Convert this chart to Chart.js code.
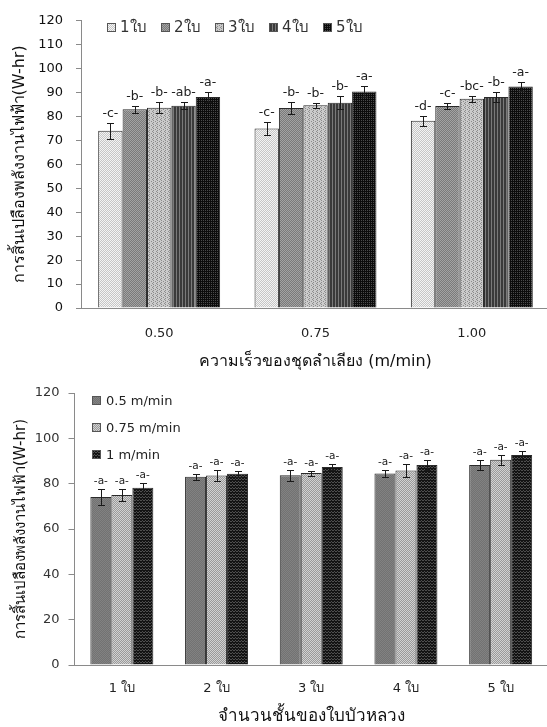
<!DOCTYPE html>
<html>
<head>
<meta charset="utf-8">
<script src="https://cdn.jsdelivr.net/npm/chart.js@4.4.1/dist/chart.umd.min.js"></script>
<style>
  html, body { margin: 0; padding: 0; background: #fff; overflow: hidden; width: 547px; height: 727px; }
  .panel { position: absolute; left: 0; }
  #speedPanel { top: 0; }
  #layerPanel { top: 370px; }
  canvas { display: block; }
</style>
</head>
<body>
<div class="panel" id="speedPanel"><canvas id="speedChart" width="550" height="370"></canvas></div>
<div class="panel" id="layerPanel"><canvas id="layerChart" width="548" height="357"></canvas></div>
<script>
// ---- data ----
const speedCategories = ['0.50', '0.75', '1.00'];
const layerCategories = ['1 ใบ', '2 ใบ', '3 ใบ', '4 ใบ', '5 ใบ'];
const layerNames = ['1ใบ', '2ใบ', '3ใบ', '4ใบ', '5ใบ'];
const speedNames = ['0.5 m/min', '0.75 m/min', '1 m/min'];

// energy used (W-hr) for 1..5 lotus-leaf layers at each conveyor speed
const energyAt050 = [74.1, 83.0, 83.7, 84.5, 88.2];
const energyAt075 = [75.0, 83.6, 84.7, 85.8, 90.5];
const energyAt100 = [78.2, 84.4, 87.4, 88.2, 92.6];

// +/- error bar half-lengths
const errAt050 = [3.4, 1.4, 2.4, 1.4, 2.2];
const errAt075 = [2.6, 2.5, 1.1, 2.7, 2.2];
const errAt100 = [2.0, 1.3, 1.3, 2.2, 2.0];

// significance groups
const groupsAt050 = ['-c-', '-b-', '-b-', '-ab-', '-a-'];
const groupsAt075 = ['-c-', '-b-', '-b-', '-b-', '-a-'];
const groupsAt100 = ['-d-', '-c-', '-bc-', '-b-', '-a-'];
const groupsByLayer = ['-a-', '-a-', '-a-', '-a-', '-a-'];

const yTitle = 'การสิ้นเปลืองพลังงานไฟฟ้า(W-hr)';
const speedAxisTitle = 'ความเร็วของชุดลำเลียง (m/min)';
const layerAxisTitle = 'จำนวนชั้นของใบบัวหลวง';

const FONT = "'DejaVu Sans', 'Noto Sans', sans-serif";

// ---- textured fills ----
function tilePattern(rows, colors) {
  const c = document.createElement('canvas');
  c.width = rows[0].length; c.height = rows.length;
  const g = c.getContext('2d');
  rows.forEach((row, y) => {
    [...row].forEach((ch, x) => { g.fillStyle = colors[ch]; g.fillRect(x, y, 1, 1); });
  });
  return g.createPattern(c, 'repeat');
}

const layerFills = [
  tilePattern(['ab', 'ba'], { a: '#f4f4f4', b: '#c6c6c6' }),
  tilePattern(['ab', 'ba'], { a: '#a3a3a3', b: '#7a7a7a' }),
  tilePattern(['abaa', 'aaab', 'abaa', 'baaa'], { a: '#cbcbcb', b: '#8c8c8c' }),
  tilePattern(['aab', 'aab'], { a: '#3a3a3a', b: '#7a7a7a' }),
  tilePattern(['ab', 'aa'], { a: '#0c0c0c', b: '#4a4a4a' })
];
const speedFills = [
  tilePattern(['ab', 'ba'], { a: '#828282', b: '#727272' }),
  tilePattern(['ab', 'ba'], { a: '#d2d2d2', b: '#9a9a9a' }),
  tilePattern(['aba', 'bab', 'aaa'], { a: '#131313', b: '#4e4e4e' })
];

// ---- plugins ----
const errorBars = {
  id: 'errorBars',
  afterDatasetsDraw(chart, args, o) {
    const ctx = chart.ctx;
    const y = chart.scales.y;
    chart.data.datasets.forEach((ds, di) => {
      const meta = chart.getDatasetMeta(di);
      meta.data.forEach((bar, i) => {
        const v = ds.data[i], e = ds.errors[i];
        const yT = Math.round(y.getPixelForValue(v + e)) + 0.5;
        const yB = Math.round(y.getPixelForValue(v - e)) + 0.5;
        const x = Math.round(bar.x) + 0.5;
        ctx.save();
        ctx.strokeStyle = o.color;
        ctx.lineWidth = 1;
        ctx.beginPath();
        ctx.moveTo(x, yT); ctx.lineTo(x, yB);
        ctx.moveTo(x - o.cap, yT); ctx.lineTo(x + o.cap, yT);
        ctx.moveTo(x - o.cap, yB); ctx.lineTo(x + o.cap, yB);
        ctx.stroke();
        ctx.fillStyle = o.textColor;
        ctx.font = o.font;
        ctx.textAlign = 'center';
        ctx.textBaseline = 'middle';
        ctx.fillText(ds.letters[i], bar.x, yT - o.gap);
        ctx.restore();
      });
    });
  }
};

const boxLegend = {
  id: 'boxLegend',
  afterDraw(chart, args, o) {
    const ctx = chart.ctx;
    ctx.save();
    ctx.font = o.font;
    ctx.textAlign = 'left';
    ctx.textBaseline = 'middle';
    chart.data.datasets.forEach((ds, i) => {
      const x = o.x + (o.vertical ? 0 : i * o.step);
      const y = o.y + (o.vertical ? i * o.step : 0);
      ctx.fillStyle = ds.backgroundColor;
      ctx.fillRect(x, y - o.box / 2, o.box, o.box);
      ctx.strokeStyle = '#555';
      ctx.lineWidth = 1;
      ctx.strokeRect(x + 0.5, y - o.box / 2 + 0.5, o.box - 1, o.box - 1);
      ctx.fillStyle = o.color;
      ctx.fillText(ds.label, x + o.box + o.gap, y + 1);
    });
    ctx.restore();
  }
};

// ---- chart 1: energy by conveyor speed ----
new Chart(document.getElementById('speedChart'), {
  type: 'bar',
  data: {
    labels: speedCategories,
    datasets: layerNames.map((name, i) => ({
      label: name,
      data: [energyAt050[i], energyAt075[i], energyAt100[i]],
      errors: [errAt050[i], errAt075[i], errAt100[i]],
      letters: [groupsAt050[i], groupsAt075[i], groupsAt100[i]],
      backgroundColor: layerFills[i],
      borderColor: '#2a2a2a',
      borderWidth: 1,
      barPercentage: 1,
      categoryPercentage: 0.78
    }))
  },
  options: {
    responsive: false,
    devicePixelRatio: 1,
    animation: false,
    layout: { padding: { top: 14, left: 0, right: 0, bottom: 0 } },
    plugins: {
      legend: { display: false },
      tooltip: { enabled: false },
      errorBars: { color: '#1a1a1a', cap: 3.5, gap: 10, font: '12.5px ' + FONT, textColor: '#222' },
      boxLegend: { x: 107, y: 27.5, step: 54, box: 9, gap: 4, font: '15px ' + FONT, color: '#333' }
    },
    scales: {
      x: {
        grid: { display: false, drawTicks: false },
        border: { display: true, color: '#8a8a8a', width: 1 },
        ticks: { color: '#222', font: { family: FONT, size: 13 }, padding: 18 },
        title: { display: true, text: speedAxisTitle, color: '#111', font: { family: FONT, size: 16, lineHeight: 1 }, padding: { top: 0, bottom: 0 } },
        afterFit: s => { s.height = 62; }
      },
      y: {
        min: 0, max: 120,
        ticks: { stepSize: 10, color: '#111', font: { family: FONT, size: 13 }, padding: 13 },
        grid: { display: true, drawOnChartArea: false, drawTicks: true, tickLength: 5, color: '#8a8a8a' },
        border: { display: true, color: '#8a8a8a', width: 1 },
        title: { display: true, text: yTitle, color: '#111', font: { family: FONT, size: 16, lineHeight: 1.2 }, padding: { top: 10, bottom: 0 } },
        afterFit: s => { s.width = 81; }
      }
    }
  },
  plugins: [errorBars, boxLegend]
});

// ---- chart 2: energy by number of leaf layers ----
new Chart(document.getElementById('layerChart'), {
  type: 'bar',
  data: {
    labels: layerCategories,
    datasets: [
      { label: speedNames[0], data: energyAt050, errors: errAt050, letters: groupsByLayer, backgroundColor: speedFills[0] },
      { label: speedNames[1], data: energyAt075, errors: errAt075, letters: groupsByLayer, backgroundColor: speedFills[1] },
      { label: speedNames[2], data: energyAt100, errors: errAt100, letters: groupsByLayer, backgroundColor: speedFills[2] }
    ].map(ds => Object.assign(ds, { borderColor: '#2a2a2a', borderWidth: 1, barPercentage: 1, categoryPercentage: 0.665 }))
  },
  options: {
    responsive: false,
    devicePixelRatio: 1,
    animation: false,
    layout: { padding: { top: 23, left: 0, right: 0, bottom: 0 } },
    plugins: {
      legend: { display: false },
      tooltip: { enabled: false },
      errorBars: { color: '#1a1a1a', cap: 3.5, gap: 8, font: '10.5px ' + FONT, textColor: '#222' },
      boxLegend: { x: 92, y: 30.5, step: 27, box: 9, gap: 5, font: '13px ' + FONT, color: '#222', vertical: true }
    },
    scales: {
      x: {
        grid: { display: false, drawTicks: false },
        border: { display: true, color: '#8a8a8a', width: 1 },
        ticks: { color: '#222', font: { family: FONT, size: 13 }, padding: 16 },
        title: { display: true, text: layerAxisTitle, color: '#111', font: { family: FONT, size: 17, lineHeight: 1.2 }, padding: { top: 0, bottom: 0 } },
        afterFit: s => { s.height = 62; }
      },
      y: {
        min: 0, max: 120,
        ticks: { stepSize: 20, color: '#333', font: { family: FONT, size: 13 }, padding: 9 },
        grid: { display: true, drawOnChartArea: false, drawTicks: true, tickLength: 6, color: '#8a8a8a' },
        border: { display: true, color: '#8a8a8a', width: 1 },
        title: { display: true, text: yTitle, color: '#111', font: { family: FONT, size: 15, lineHeight: 1.2 }, padding: { top: 12, bottom: 0 } },
        afterFit: s => { s.width = 74.5; }
      }
    }
  },
  plugins: [errorBars, boxLegend]
});
</script>
</body>
</html>
